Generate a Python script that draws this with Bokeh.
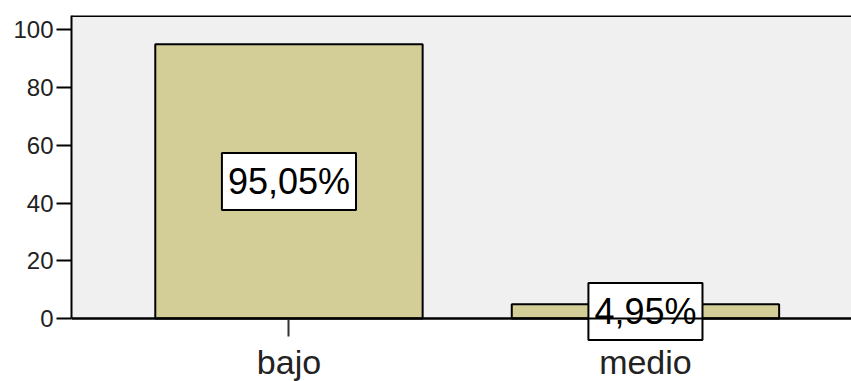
from bokeh.plotting import figure
from bokeh.models import ColumnDataSource, Range1d, FixedTicker, Label, Span, BoxAnnotation
from bokeh.embed import file_html
from bokeh.resources import INLINE

categories = ["bajo", "medio"]
percentages = [95.05, 4.95]
y_ticks = [0, 20, 40, 60, 80, 100]
y_max = 105

positions = list(range(len(categories)))
labels = [f"{v:.2f}%".replace(".", ",") for v in percentages]
mids = [v / 2 for v in percentages]

src = ColumnDataSource(dict(x=positions, top=percentages))

# the frame reaches below zero so that the value boxes are not clipped;
# the x axis is fixed at zero
p = figure(width=851, height=381, output_backend="svg", toolbar_location=None,
           x_range=Range1d(-0.61, 1.578), y_range=Range1d(-21.8, y_max),
           min_border_left=71, min_border_right=0, min_border_top=15,
           min_border_bottom=0)

p.background_fill_color = "white"
p.border_fill_color = "white"
p.outline_line_color = None
p.xgrid.visible = False
p.ygrid.visible = False

p.add_layout(BoxAnnotation(bottom=0, top=y_max, fill_color="#F0F0F0", fill_alpha=1,
                           line_color=None, level="underlay"))

p.vbar(x="x", top="top", width=0.75, bottom=0, source=src,
       fill_color="#D3CE97", line_color="black", line_width=2)

for xp, yp, txt in zip(positions, mids, labels):
    p.add_layout(Label(x=xp, y=yp, text=txt, level="annotation",
                       text_align="center", text_baseline="middle",
                       text_font="Liberation Sans", text_font_size="36px", text_color="black",
                       background_fill_color="white", border_line_color="black",
                       border_line_width=2, padding=(6, 8)))

# top border and baseline drawn above the labels
p.add_layout(Span(location=y_max, dimension="width", line_color="black",
                  line_width=3, level="overlay"))
p.add_layout(Span(location=0, dimension="width", line_color="black",
                  line_width=2, level="overlay"))

# y axis
p.yaxis.ticker = FixedTicker(ticks=y_ticks)
p.yaxis.bounds = (0, y_max)
p.yaxis.axis_line_color = "black"
p.yaxis.axis_line_width = 2
p.yaxis.major_tick_line_color = "black"
p.yaxis.major_tick_line_width = 2
p.yaxis.major_tick_out = 15
p.yaxis.major_tick_in = 0
p.yaxis.minor_tick_line_color = None
p.yaxis.major_label_standoff = 3
p.yaxis.major_label_text_font = "Liberation Sans"
p.yaxis.major_label_text_font_size = "24px"
p.yaxis.major_label_text_color = "#222222"

# x axis
p.xaxis.fixed_location = 0
p.xaxis.ticker = FixedTicker(ticks=positions)
p.xaxis.major_label_overrides = {i: c for i, c in zip(positions, categories)}
p.xaxis.axis_line_color = "black"
p.xaxis.axis_line_width = 2
p.xaxis.major_tick_line_color = "#333333"
p.xaxis.major_tick_line_width = 2
p.xaxis.major_tick_out = 18
p.xaxis.major_tick_in = 0
p.xaxis.minor_tick_line_color = None
p.xaxis.major_label_standoff = 6
p.xaxis.major_label_text_font = "Liberation Sans"
p.xaxis.major_label_text_font_size = "34px"
p.xaxis.major_label_text_color = "#222222"

open("out.html", "w").write(file_html(p, INLINE))
